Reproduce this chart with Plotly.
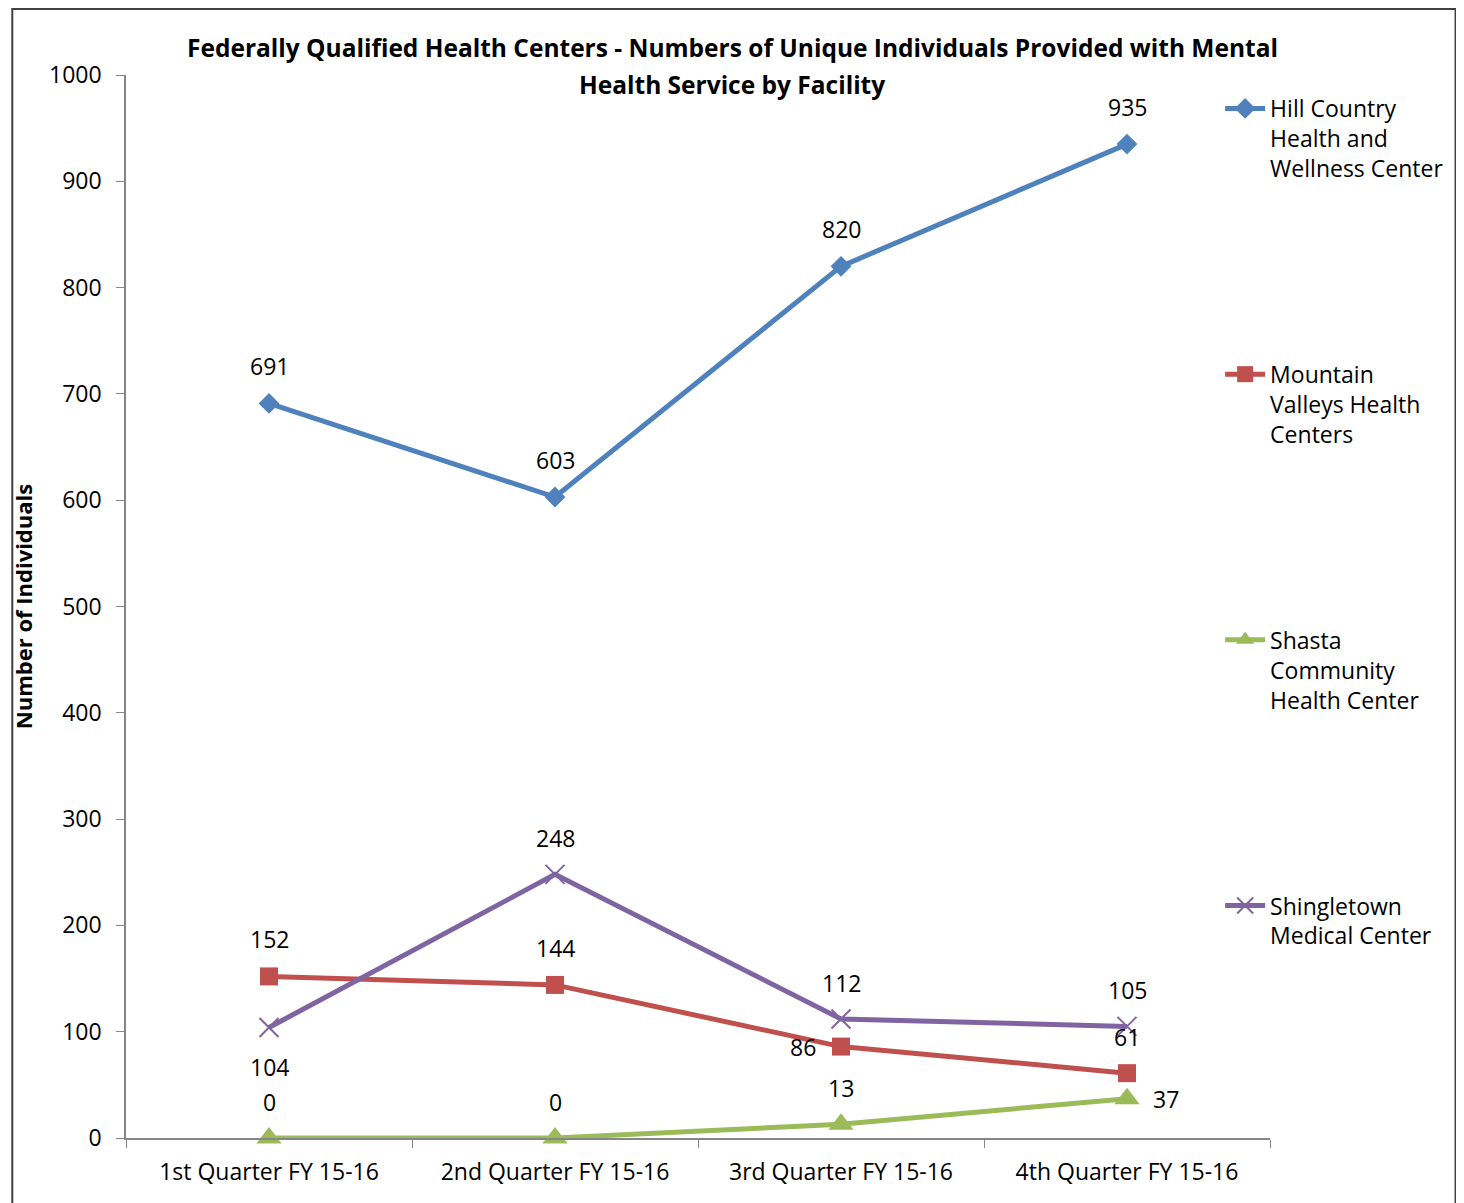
import plotly.graph_objects as go

categories = ["1st Quarter FY 15-16", "2nd Quarter FY 15-16", "3rd Quarter FY 15-16", "4th Quarter FY 15-16"]
series_names = ["Hill Country<br>Health and<br>Wellness Center",
                "Mountain<br>Valleys Health<br>Centers",
                "Shasta<br>Community<br>Health Center",
                "Shingletown<br>Medical Center"]
hill_country = [691, 603, 820, 935]
mountain_valleys = [152, 144, 86, 61]
shasta = [0, 0, 13, 37]
shingletown = [104, 248, 112, 105]
y_ticks = [0, 100, 200, 300, 400, 500, 600, 700, 800, 900, 1000]
title_lines = ["Federally Qualified Health Centers - Numbers of Unique Individuals Provided with Mental",
               "Health Service by Facility"]

series_values = [hill_country, mountain_valleys, shasta, shingletown]
colors = ["#4F81BD", "#C0504D", "#9BBB59", "#8064A2"]
symbols = ["diamond", "square", "triangle-up", "x-thin-open"]
msizes = [16, 18, 22, 19]
# label offsets (px) per point
label_shift = [
    [(0, 37), (0, 37), (0, 37), (0, 37)],
    [(0, 37), (0, 37), (-38, 0), (0, 36)],
    [(0, 36), (0, 36), (0, 36), (39, 0)],
    [(0, -40), (0, 36), (0, 36), (0, 36)],
]

FONT = "Open Sans"
FS = 23
fig = go.Figure()
for i, vals in enumerate(series_values):
    marker = dict(symbol=symbols[i], size=msizes[i], color=colors[i])
    if symbols[i].startswith("x-thin"):
        marker["line"] = dict(color=colors[i], width=2)
    fig.add_trace(go.Scatter(
        x=categories, y=vals, mode="lines+markers", name=series_names[i],
        line=dict(color=colors[i], width=5), marker=marker,
        legendgroup=f"g{i}", cliponaxis=False,
    ))

annotations = []
for i, vals in enumerate(series_values):
    for j, v in enumerate(vals):
        dx, dy = label_shift[i][j]
        annotations.append(dict(x=categories[j], y=v, xref="x", yref="y", text=str(v),
                                showarrow=False, xshift=dx, yshift=dy,
                                font=dict(family=FONT, size=FS, color="#000000")))
for k, (line, yp) in enumerate(zip(title_lines, [1.0254, 0.9915])):
    annotations.append(dict(x=0.530, y=yp, xref="paper", yref="paper", text=f"<b>{line}</b>",
                            showarrow=False, xanchor="center", yanchor="middle",
                            font=dict(family=FONT, size=24.5, color="#000000")))

fig.update_layout(
    width=1464, height=1203,
    paper_bgcolor="white", plot_bgcolor="white",
    margin=dict(l=115, r=202, t=67, b=73),
    font=dict(family=FONT, size=FS, color="#000000"),
    showlegend=True,
    legend=dict(x=0.9564, y=0.9887, xanchor="left", yanchor="top", valign="top",
                font=dict(family=FONT, size=FS, color="#000000"),
                tracegroupgap=173, bgcolor="rgba(0,0,0,0)", itemwidth=40),
    annotations=annotations,
    xaxis=dict(type="category", range=[-0.5, 3.5], categoryorder="array", categoryarray=categories,
               showline=True, linecolor="#868686", linewidth=1.5, showgrid=False, zeroline=False,
               ticks="outside", tickson="boundaries", ticklen=8, tickcolor="#868686",
               ticklabelstandoff=13,
               tickfont=dict(family=FONT, size=FS, color="#000000")),
    yaxis=dict(range=[0, 1000], tickmode="array", tickvals=y_ticks,
               showline=True, linecolor="#868686", linewidth=1.5, showgrid=False, zeroline=False,
               ticks="outside", ticklen=8, tickcolor="#868686", ticklabelstandoff=10,
               tickfont=dict(family=FONT, size=FS, color="#000000"),
               title=dict(text="<b>Number of Individuals</b>", font=dict(family=FONT, size=22, color="#000000"), standoff=14)),
    shapes=[dict(type="rect", xref="paper", yref="paper", x0=-0.0994, x1=1.1622, y0=-0.1, y1=1.0621,
                 line=dict(color="#404040", width=2), fillcolor="rgba(0,0,0,0)", layer="below")],
)

fig.write_html("out.html")
